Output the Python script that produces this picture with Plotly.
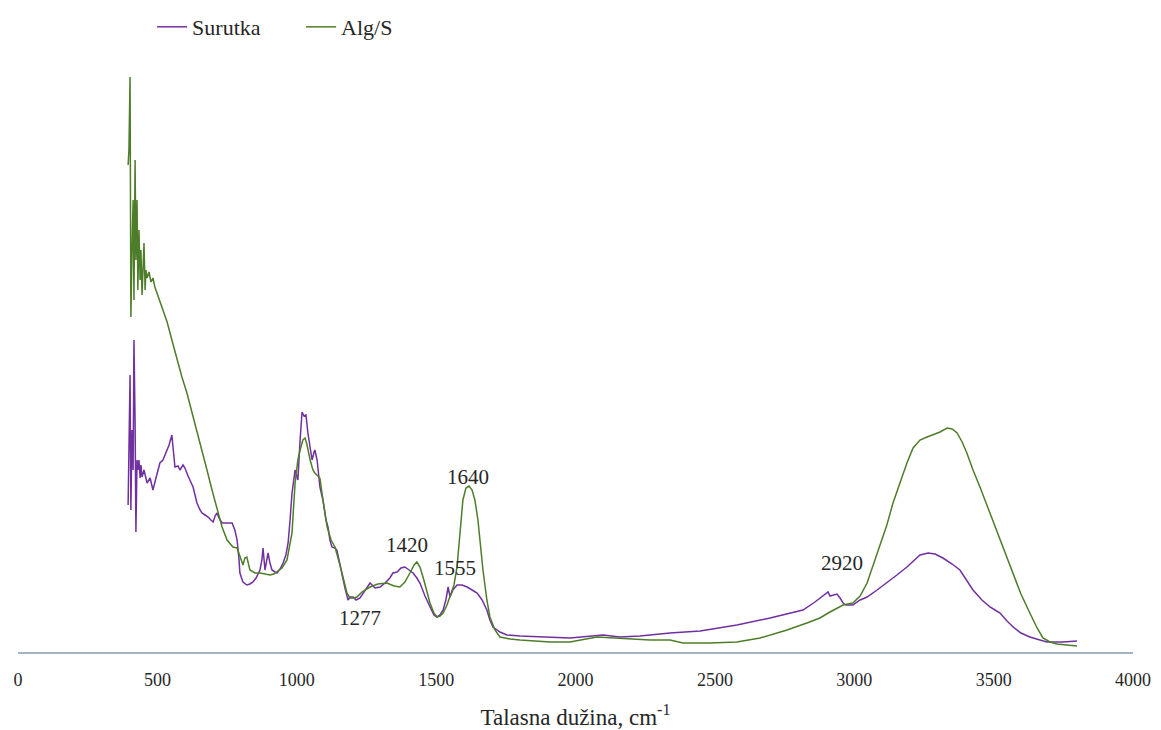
import plotly.graph_objects as go

# Wavenumbers (cm-1) and intensities (arbitrary units)
surutka_wn = [395, 398, 402, 405, 409, 413, 416, 420, 423, 427, 430, 434, 438, 441, 445, 452, 463, 474, 484, 495,
              509, 520, 531, 542, 552, 560, 563, 574, 581, 592, 599, 610, 617, 628, 635, 642, 653, 660, 671, 682,
              692, 700, 707, 714, 721, 732, 750, 768, 778, 786, 793, 796, 807, 821, 832, 843, 854, 868, 875, 879,
              886, 897, 904, 911, 922, 929, 940, 951, 961, 969, 976, 983, 994, 1004, 1012, 1019, 1026, 1033, 1040, 1048,
              1055, 1062, 1065, 1073, 1083, 1094, 1105, 1112, 1119, 1126, 1137, 1144, 1155, 1162, 1173, 1184, 1191, 1202, 1213, 1227,
              1245, 1263, 1281, 1299, 1317, 1334, 1345, 1360, 1374, 1388, 1403, 1417, 1431, 1442, 1460, 1478, 1492, 1503, 1514, 1525,
              1535, 1543, 1550, 1560, 1575, 1593, 1611, 1629, 1647, 1665, 1682, 1693, 1704, 1729, 1754, 1801, 1909, 1980, 2099, 2160,
              2231, 2339, 2447, 2579, 2698, 2816, 2859, 2877, 2895, 2906, 2913, 2924, 2938, 2949, 2960, 2970, 2985, 2995, 3021, 3046,
              3082, 3117, 3153, 3189, 3211, 3236, 3265, 3290, 3318, 3351, 3379, 3404, 3426, 3458, 3487, 3505, 3523, 3548, 3570, 3598,
              3630, 3666, 3691, 3749, 3799]
surutka_val = [1.47, 1.92, 2.77, 1.42, 2.22, 1.82, 3.12, 2.32, 1.20, 1.92, 1.82, 1.92, 1.74, 1.87, 1.75, 1.82, 1.69, 1.74, 1.62, 1.74,
               1.89, 1.92, 2.00, 2.07, 2.17, 1.97, 1.85, 1.86, 1.82, 1.87, 1.84, 1.76, 1.72, 1.65, 1.57, 1.49, 1.42, 1.39, 1.37, 1.35,
               1.32, 1.30, 1.36, 1.39, 1.34, 1.29, 1.29, 1.29, 1.22, 1.12, 0.92, 0.79, 0.70, 0.67, 0.68, 0.70, 0.74, 0.82, 0.92, 1.04,
               0.82, 0.99, 0.89, 0.82, 0.80, 0.79, 0.83, 0.89, 0.97, 1.09, 1.32, 1.59, 1.82, 1.72, 2.12, 2.40, 2.36, 2.37, 2.19, 2.02,
               1.92, 2.00, 2.02, 1.92, 1.65, 1.52, 1.32, 1.25, 1.12, 1.05, 1.04, 1.02, 0.87, 0.79, 0.64, 0.52, 0.55, 0.55, 0.52, 0.54,
               0.62, 0.69, 0.64, 0.65, 0.69, 0.74, 0.79, 0.80, 0.84, 0.85, 0.82, 0.79, 0.74, 0.69, 0.56, 0.45, 0.37, 0.35, 0.37, 0.42,
               0.52, 0.65, 0.55, 0.62, 0.67, 0.67, 0.65, 0.62, 0.59, 0.52, 0.42, 0.32, 0.25, 0.20, 0.17, 0.16, 0.15, 0.14, 0.17, 0.15,
               0.16, 0.19, 0.21, 0.27, 0.34, 0.42, 0.50, 0.54, 0.58, 0.60, 0.56, 0.57, 0.58, 0.54, 0.49, 0.47, 0.47, 0.47, 0.52, 0.55,
               0.62, 0.69, 0.77, 0.85, 0.91, 0.97, 0.99, 0.98, 0.94, 0.88, 0.82, 0.72, 0.62, 0.52, 0.45, 0.42, 0.39, 0.31, 0.25, 0.19,
               0.15, 0.12, 0.10, 0.10, 0.11]

alg_wn = [395, 398, 402, 405, 409, 413, 416, 420, 423, 427, 430, 434, 438, 441, 445, 448, 452, 456, 459, 463,
          470, 477, 484, 491, 502, 517, 535, 552, 570, 588, 606, 624, 642, 660, 678, 696, 714, 732, 750, 771,
          786, 796, 807, 814, 821, 832, 850, 868, 886, 904, 918, 929, 947, 965, 976, 983, 994, 1004, 1012, 1022,
          1030, 1037, 1048, 1058, 1065, 1076, 1083, 1094, 1109, 1123, 1137, 1155, 1169, 1180, 1191, 1205, 1216, 1234, 1263, 1291,
          1324, 1349, 1370, 1388, 1406, 1421, 1431, 1442, 1453, 1467, 1478, 1492, 1503, 1514, 1525, 1539, 1550, 1564, 1575, 1586,
          1596, 1607, 1618, 1629, 1639, 1650, 1661, 1668, 1682, 1693, 1711, 1729, 1765, 1801, 1909, 1980, 2077, 2160, 2267, 2339,
          2386, 2482, 2579, 2662, 2759, 2830, 2877, 2913, 2960, 2995, 3021, 3046, 3067, 3092, 3117, 3139, 3164, 3189, 3211, 3236,
          3261, 3282, 3308, 3333, 3351, 3369, 3387, 3404, 3426, 3451, 3480, 3512, 3541, 3570, 3598, 3630, 3656, 3677, 3702, 3727,
          3763, 3799]
alg_val = [4.87, 5.02, 5.75, 3.35, 4.02, 4.52, 3.52, 4.92, 3.92, 4.52, 3.62, 4.22, 3.72, 4.02, 3.57, 3.82, 4.09, 3.62, 3.82, 3.74,
           3.80, 3.70, 3.74, 3.65, 3.56, 3.44, 3.30, 3.12, 2.92, 2.75, 2.59, 2.40, 2.22, 2.02, 1.82, 1.62, 1.42, 1.25, 1.12, 1.05,
           1.04, 0.95, 0.87, 0.94, 0.95, 0.82, 0.79, 0.79, 0.78, 0.77, 0.78, 0.80, 0.84, 0.92, 1.07, 1.19, 1.69, 1.92, 2.02, 2.12,
           2.14, 2.07, 1.92, 1.82, 1.79, 1.76, 1.74, 1.52, 1.25, 1.12, 1.05, 0.87, 0.72, 0.59, 0.54, 0.54, 0.55, 0.60, 0.65, 0.68,
           0.69, 0.66, 0.65, 0.70, 0.79, 0.87, 0.90, 0.85, 0.75, 0.60, 0.49, 0.39, 0.35, 0.36, 0.39, 0.47, 0.55, 0.67, 0.85, 1.22,
           1.52, 1.64, 1.66, 1.62, 1.52, 1.32, 1.02, 0.82, 0.52, 0.35, 0.22, 0.15, 0.13, 0.12, 0.10, 0.10, 0.15, 0.14, 0.12, 0.12,
           0.09, 0.09, 0.10, 0.14, 0.22, 0.29, 0.34, 0.40, 0.47, 0.49, 0.56, 0.69, 0.86, 1.05, 1.27, 1.49, 1.70, 1.89, 2.04, 2.12,
           2.15, 2.17, 2.20, 2.24, 2.23, 2.19, 2.10, 1.99, 1.82, 1.65, 1.44, 1.22, 1.00, 0.79, 0.58, 0.39, 0.24, 0.14, 0.10, 0.08,
           0.07, 0.06]

peak_labels = ["1277", "1420", "1555", "1640", "2920"]
peak_label_x = [1227, 1395, 1568, 1614, 2956]
peak_label_y = [0.34, 1.07, 0.84, 1.75, 0.89]

x_ticks = [0, 500, 1000, 1500, 2000, 2500, 3000, 3500, 4000]

SERIF = "Liberation Serif, Times New Roman, serif"
TEXT = "#262626"

fig = go.Figure()
fig.add_trace(go.Scatter(x=surutka_wn, y=surutka_val, mode="lines", name="Surutka",
                         line=dict(color="#7030A0", width=1.5)))
fig.add_trace(go.Scatter(x=alg_wn, y=alg_val, mode="lines", name="Alg/S",
                         line=dict(color="#4E7D2A", width=1.5)))

for t, x, y in zip(peak_labels, peak_label_x, peak_label_y):
    fig.add_annotation(x=x, y=y, text=t, showarrow=False,
                       font=dict(family=SERIF, size=21, color=TEXT))

fig.update_layout(
    width=1161, height=730,
    margin=dict(l=18, r=28, t=60, b=78, autoexpand=False),
    paper_bgcolor="white", plot_bgcolor="white",
    showlegend=True,
    legend=dict(orientation="h", xref="container", yref="container",
                x=0.131, y=0.963, xanchor="left", yanchor="middle",
                entrywidth=104, entrywidthmode="pixels",
                font=dict(family=SERIF, size=22, color=TEXT),
                bgcolor="rgba(0,0,0,0)"),
    xaxis=dict(range=[0, 4000], tickvals=x_ticks, showgrid=False, zeroline=False,
               showline=True, linecolor="#A6B3C6", linewidth=1.5, automargin=False,
               ticks="", ticklabelstandoff=11,
               tickfont=dict(family=SERIF, size=18, color=TEXT),
               title=dict(text="Talasna dužina, cm<sup>-1</sup>", standoff=20,
                          font=dict(family=SERIF, size=23, color=TEXT))),
    yaxis=dict(range=[0, 5.92], visible=False, showgrid=False, zeroline=False),
)

fig.write_html("out.html", config={"displayModeBar": False},
               post_script="document.body.style.margin='0';")
